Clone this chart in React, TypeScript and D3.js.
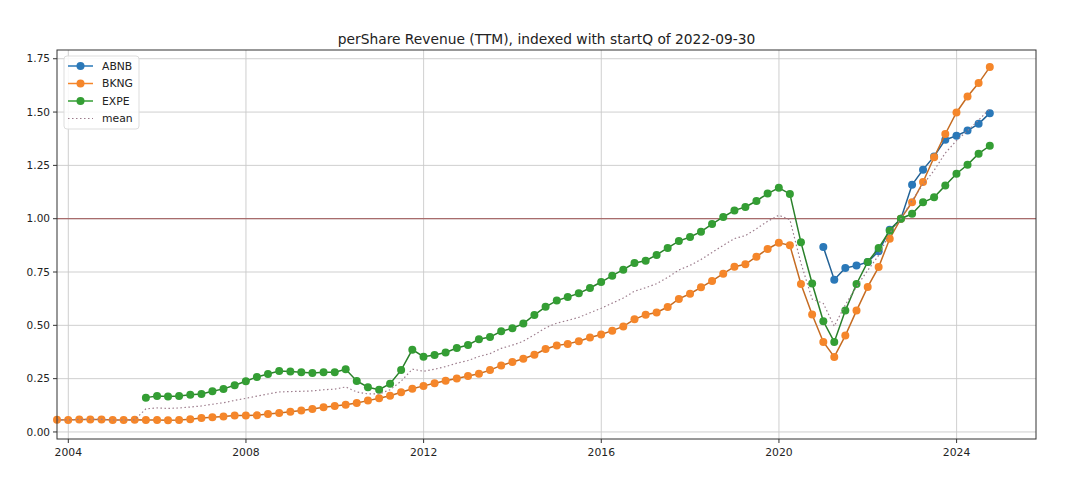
import React, { useEffect, useRef } from "react";
import * as d3 from "d3";

// quarterly perShare revenue, indexed to 2022-09-30 = 1.0
const abnbStart = "2020-12";
const abnbValues = [
  0.867, 0.714, 0.769, 0.78, 0.797, 0.847, 0.948, 1.0, 1.159, 1.23, 1.292,
  1.37, 1.389, 1.413, 1.445, 1.495,
];

const bkngStart = "2003-09";
const bkngValues = [
  0.057, 0.056, 0.059, 0.059, 0.059, 0.056, 0.056, 0.057, 0.056, 0.056, 0.055,
  0.056, 0.06, 0.066, 0.069, 0.072, 0.077, 0.077, 0.078, 0.084, 0.089, 0.095,
  0.101, 0.108, 0.116, 0.122, 0.128, 0.136, 0.147, 0.158, 0.17, 0.186, 0.203,
  0.216, 0.228, 0.24, 0.251, 0.262, 0.273, 0.29, 0.312, 0.328, 0.343, 0.362,
  0.389, 0.405, 0.413, 0.425, 0.443, 0.457, 0.475, 0.495, 0.528, 0.55, 0.56,
  0.586, 0.624, 0.648, 0.678, 0.708, 0.742, 0.775, 0.786, 0.822, 0.858, 0.887,
  0.875, 0.694, 0.551, 0.422, 0.352, 0.452, 0.569, 0.68, 0.773, 0.906, 1.0,
  1.077, 1.172, 1.288, 1.397, 1.498, 1.573, 1.636, 1.711,
];

const expeStart = "2005-09";
const expeValues = [
  0.161, 0.169, 0.166, 0.169, 0.174, 0.178, 0.191, 0.202, 0.219, 0.238, 0.258,
  0.272, 0.286, 0.284, 0.28, 0.277, 0.28, 0.28, 0.294, 0.239, 0.21, 0.198,
  0.226, 0.29, 0.386, 0.353, 0.361, 0.373, 0.394, 0.408, 0.435, 0.445, 0.472,
  0.486, 0.508, 0.549, 0.587, 0.616, 0.633, 0.65, 0.675, 0.703, 0.733, 0.761,
  0.792, 0.803, 0.83, 0.863, 0.895, 0.914, 0.939, 0.975, 1.008, 1.039, 1.055,
  1.083, 1.118, 1.145, 1.116, 0.889, 0.696, 0.519, 0.422, 0.569, 0.694, 0.797,
  0.863, 0.944, 1.0, 1.023, 1.077, 1.1, 1.156, 1.211, 1.253, 1.305, 1.342,
];

const yTicks = [0, 0.25, 0.5, 0.75, 1.0, 1.25, 1.5, 1.75];
const xTickYears = [2004, 2008, 2012, 2016, 2020, 2024];
const legendLabels = ["ABNB", "BKNG", "EXPE", "mean"];

interface Pt {
  date: Date;
  value: number;
}

// quarter-end dates starting from "YYYY-MM"
const quarters = (start: string, values: number[]): Pt[] => {
  const [y, m] = start.split("-").map(Number);
  return values.map((v, i) => ({
    date: d3.timeDay.offset(d3.timeMonth.offset(new Date(y, m, 1), 3 * i), -1),
    value: v,
  }));
};

const App: React.FC = () => {
  const svgRef = useRef<SVGSVGElement>(null);

  useEffect(() => {
    if (!svgRef.current) return;
    const width = 1080;
    const height = 481;
    const plot = { left: 57, right: 1036, top: 50, bottom: 439 };
    const font = "DejaVu Sans, sans-serif";
    const meanColor = "#9c7c8c";

    const svg = d3.select(svgRef.current);
    svg.selectAll("*").remove();
    svg.attr("width", width).attr("height", height);

    svg.append("rect").attr("width", width).attr("height", height).attr("fill", "#fff");

    const series = [
      { name: "ABNB", color: "#2a78b8", data: quarters(abnbStart, abnbValues) },
      { name: "BKNG", color: "#f5862a", data: quarters(bkngStart, bkngValues) },
      { name: "EXPE", color: "#349e34", data: quarters(expeStart, expeValues) },
    ];

    // mean over whichever series exist on each date
    const byTime = d3.rollup(
      series.flatMap((s) => s.data),
      (v) => d3.mean(v, (d) => d.value) as number,
      (d) => d.date.getTime()
    );
    const meanData: Pt[] = Array.from(byTime, ([t, v]) => ({ date: new Date(t), value: v })).sort(
      (a, b) => a.date.getTime() - b.date.getTime()
    );

    const x = d3
      .scaleTime()
      .domain([new Date(2003, 8, 30), new Date(2025, 9, 15)])
      .range([plot.left, plot.right]);
    const y = d3.scaleLinear().domain([-0.033, 1.791]).range([plot.bottom, plot.top]);

    // grid
    const grid = svg.append("g").attr("stroke", "#cacaca").attr("stroke-width", 0.9);
    xTickYears.forEach((yr) => {
      const px = x(new Date(yr, 0, 1));
      grid.append("line").attr("x1", px).attr("x2", px).attr("y1", plot.top).attr("y2", plot.bottom);
    });
    yTicks.forEach((t) => {
      grid
        .append("line")
        .attr("x1", plot.left)
        .attr("x2", plot.right)
        .attr("y1", y(t))
        .attr("y2", y(t));
    });

    // reference line at 1.0
    svg
      .append("line")
      .attr("x1", plot.left)
      .attr("x2", plot.right)
      .attr("y1", y(1))
      .attr("y2", y(1))
      .attr("stroke", "#a86c6c")
      .attr("stroke-width", 1.2);

    const line = d3
      .line<Pt>()
      .x((d) => x(d.date))
      .y((d) => y(d.value));

    series.forEach((s) => {
      const g = svg.append("g");
      g.append("path")
        .datum(s.data)
        .attr("d", line)
        .attr("fill", "none")
        .attr("stroke", d3.color(s.color)!.darker(0.6).formatHex())
        .attr("stroke-width", 1.5);
      g.selectAll("circle")
        .data(s.data)
        .join("circle")
        .attr("cx", (d) => x(d.date))
        .attr("cy", (d) => y(d.value))
        .attr("r", 4)
        .attr("fill", s.color);
    });

    svg
      .append("path")
      .datum(meanData)
      .attr("d", line)
      .attr("fill", "none")
      .attr("stroke", meanColor)
      .attr("stroke-width", 1.2)
      .attr("stroke-dasharray", "1.5 2.5");

    // spines
    svg
      .append("rect")
      .attr("x", plot.left)
      .attr("y", plot.top)
      .attr("width", plot.right - plot.left)
      .attr("height", plot.bottom - plot.top)
      .attr("fill", "none")
      .attr("stroke", "#333")
      .attr("stroke-width", 1);

    // x ticks
    xTickYears.forEach((yr) => {
      const px = x(new Date(yr, 0, 1));
      svg
        .append("line")
        .attr("x1", px)
        .attr("x2", px)
        .attr("y1", plot.bottom)
        .attr("y2", plot.bottom + 4)
        .attr("stroke", "#333");
      svg
        .append("text")
        .attr("x", px)
        .attr("y", plot.bottom + 17)
        .attr("text-anchor", "middle")
        .attr("font-family", font)
        .attr("font-size", 10.8)
        .attr("fill", "#222")
        .text(String(yr));
    });

    // y ticks
    yTicks.forEach((t) => {
      svg
        .append("line")
        .attr("x1", plot.left - 4)
        .attr("x2", plot.left)
        .attr("y1", y(t))
        .attr("y2", y(t))
        .attr("stroke", "#333");
      svg
        .append("text")
        .attr("x", plot.left - 7)
        .attr("y", y(t))
        .attr("dy", "0.35em")
        .attr("text-anchor", "end")
        .attr("font-family", font)
        .attr("font-size", 10.5)
        .attr("fill", "#222")
        .text(t.toFixed(2));
    });

    svg
      .append("text")
      .attr("x", (plot.left + plot.right) / 2)
      .attr("y", 44)
      .attr("text-anchor", "middle")
      .attr("font-family", font)
      .attr("font-size", 13.8)
      .attr("fill", "#222")
      .text("perShare Revenue (TTM), indexed with startQ of 2022-09-30");

    // legend
    const lg = svg.append("g").attr("transform", "translate(64,56)");
    lg.append("rect")
      .attr("width", 75)
      .attr("height", 73)
      .attr("rx", 3)
      .attr("fill", "#fff")
      .attr("fill-opacity", 0.85)
      .attr("stroke", "#ddd");
    legendLabels.forEach((name, i) => {
      const row = lg.append("g").attr("transform", `translate(0,${10 + i * 17.5})`);
      const s = series.find((d) => d.name === name);
      if (s) {
        row.append("line").attr("x1", 4).attr("x2", 29).attr("stroke", s.color).attr("stroke-width", 1.5);
        row.append("circle").attr("cx", 16.5).attr("r", 4).attr("fill", s.color);
      } else {
        row
          .append("line")
          .attr("x1", 4)
          .attr("x2", 29)
          .attr("stroke", meanColor)
          .attr("stroke-width", 1.2)
          .attr("stroke-dasharray", "1.5 2.5");
      }
      row
        .append("text")
        .attr("x", 38)
        .attr("dy", "0.35em")
        .attr("font-family", font)
        .attr("font-size", 10.8)
        .attr("fill", "#222")
        .text(name);
    });
  }, []);

  return <svg ref={svgRef} style={{ position: "absolute", left: 0, top: 0 }}></svg>;
};

export default App;
